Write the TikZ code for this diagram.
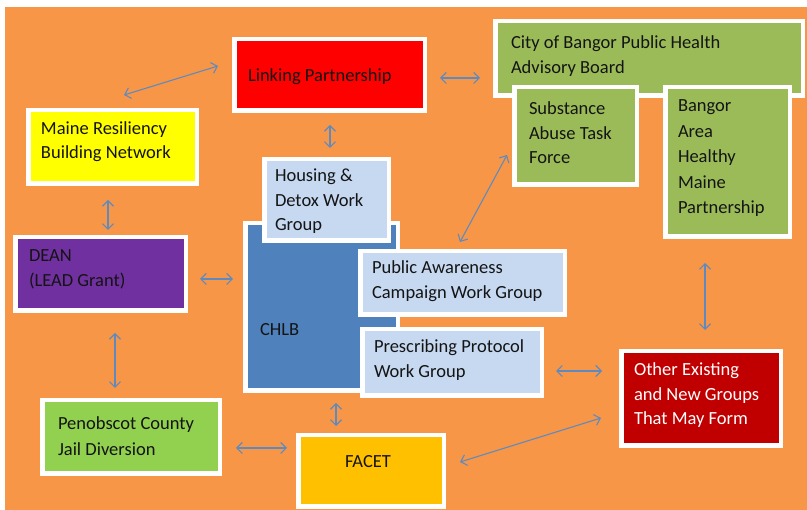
\documentclass[tikz,border=0pt]{standalone}
\usepackage{fontspec}
\setmainfont{Carlito}
\usetikzlibrary{arrows.meta,shadows}
\definecolor{bgorange}{HTML}{F79646}
\definecolor{lpred}{HTML}{FF0000}
\definecolor{olive}{HTML}{9BBB59}
\definecolor{yel}{HTML}{FFFF00}
\definecolor{lblue}{HTML}{C6D9F1}
\definecolor{chblue}{HTML}{4F81BD}
\definecolor{purp}{HTML}{7030A0}
\definecolor{lgreen}{HTML}{92D050}
\definecolor{gold}{HTML}{FFC000}
\definecolor{dred}{HTML}{C00000}
\definecolor{arrowc}{HTML}{5F8AC0}
\definecolor{txtc}{HTML}{141414}
\newcommand{\bxt}[5]{\parbox[c][#2][t]{#1}{\fontsize{18.5}{24.5}\selectfont\raggedright\leftskip=#3\relax\vspace*{#4}\strut#5\par}}
\begin{document}
\begin{tikzpicture}[x=1pt,y=-1pt,
  box/.style={draw=white, line width=4.5pt, inner sep=0pt, outer sep=0pt, text=txtc,
    drop shadow={shadow xshift=2.5pt, shadow yshift=-2.5pt, opacity=0.35, fill=black}},
  conn/.style={draw=arrowc, line width=1.1pt,
    {Straight Barb[length=5.5pt,width=11pt]}-{Straight Barb[length=5.5pt,width=11pt]}}]
\useasboundingbox (0,0) rectangle (807,510);
\fill[white] (0,0) rectangle (807,510);
\fill[bgorange] (5,7) rectangle (807,510);

% top row
\node[box, fill=lpred] (lp) at (329.5,75) {\bxt{190.5pt}{71.5pt}{13.75pt}{25.6pt}{Linking Partnership}};
\node[box, fill=olive] (cb) at (649,58.5) {\bxt{307.5pt}{74.5pt}{15.75pt}{10.6pt}{City of Bangor Public Health\\Advisory Board}};
\node[box, fill=olive] (sa) at (575.5,136) {\bxt{122.5pt}{97.5pt}{14.75pt}{10.6pt}{Substance\\Abuse Task\\Force}};
\node[box, fill=olive] (ba) at (727.5,162) {\bxt{124.5pt}{149.5pt}{12.75pt}{7.6pt}{\baselineskip=25.5pt Bangor\\Area\\Healthy\\Maine\\Partnership}};

% left column
\node[box, fill=yel] (mr) at (112.5,147) {\bxt{168.5pt}{73.5pt}{12.75pt}{7.6pt}{\baselineskip=23.5pt Maine Resiliency\\Building Network}};
\node[box, fill=purp] (de) at (100.5,274) {\bxt{170.5pt}{73.5pt}{13.75pt}{7.6pt}{DEAN\\(LEAD Grant)}};
\node[box, fill=lgreen] (pc) at (131,437) {\bxt{177.5pt}{73.5pt}{15.75pt}{12.6pt}{\baselineskip=25.5pt Penobscot County\\Jail Diversion}};

% centre
\node[box, fill=chblue] (ch) at (321.5,307) {\bxt{152.5pt}{167.5pt}{14.75pt}{95.6pt}{CHLB}};
\node[box, fill=lblue] (hd) at (326.5,200) {\bxt{124.5pt}{81.5pt}{10.75pt}{5.6pt}{Housing \&\\Detox Work\\Group}};
\node[box, fill=lblue] (pa) at (462.5,283) {\bxt{204.5pt}{63.5pt}{11.75pt}{5.6pt}{Public Awareness\\Campaign Work Group}};
\node[box, fill=lblue] (pp) at (452,362.5) {\bxt{179.5pt}{66.5pt}{11.75pt}{6.6pt}{Prescribing Protocol\\Work Group}};
\node[box, fill=gold] (fa) at (371,471) {\bxt{145.5pt}{71.5pt}{46.75pt}{15.6pt}{FACET}};
\node[box, fill=dred, text=white] (oe) at (701,398.5) {\bxt{159.5pt}{94.5pt}{12.75pt}{7.6pt}{Other Existing\\and New Groups\\That May Form}};

% connector end points
\coordinate (a1s) at (124,95);  \coordinate (a1e) at (218,66);
\coordinate (a2s) at (330,125); \coordinate (a2e) at (330,148);
\coordinate (a3s) at (108,200); \coordinate (a3e) at (108,230);
\coordinate (a4s) at (440,78);  \coordinate (a4e) at (480,78);
\coordinate (a5s) at (460,242); \coordinate (a5e) at (507,155);
\coordinate (a6s) at (200,279); \coordinate (a6e) at (233,279);
\coordinate (a7s) at (115,333); \coordinate (a7e) at (115,388);
\coordinate (a8s) at (336,403); \coordinate (a8e) at (336,426);
\coordinate (a9s) at (236,448); \coordinate (a9e) at (287,448);
\coordinate (a10s) at (556,371); \coordinate (a10e) at (602,371);
\coordinate (a11s) at (460,462); \coordinate (a11e) at (601,418);
\coordinate (a12s) at (705,263); \coordinate (a12e) at (705,330);

\draw[conn] (a1s) -- (a1e);
\draw[conn] (a2s) -- (a2e);
\draw[conn] (a3s) -- (a3e);
\draw[conn] (a4s) -- (a4e);
\draw[conn] (a5s) -- (a5e);
\draw[conn] (a6s) -- (a6e);
\draw[conn] (a7s) -- (a7e);
\draw[conn] (a8s) -- (a8e);
\draw[conn] (a9s) -- (a9e);
\draw[conn] (a10s) -- (a10e);
\draw[conn] (a11s) -- (a11e);
\draw[conn] (a12s) -- (a12e);
\end{tikzpicture}
\end{document}
